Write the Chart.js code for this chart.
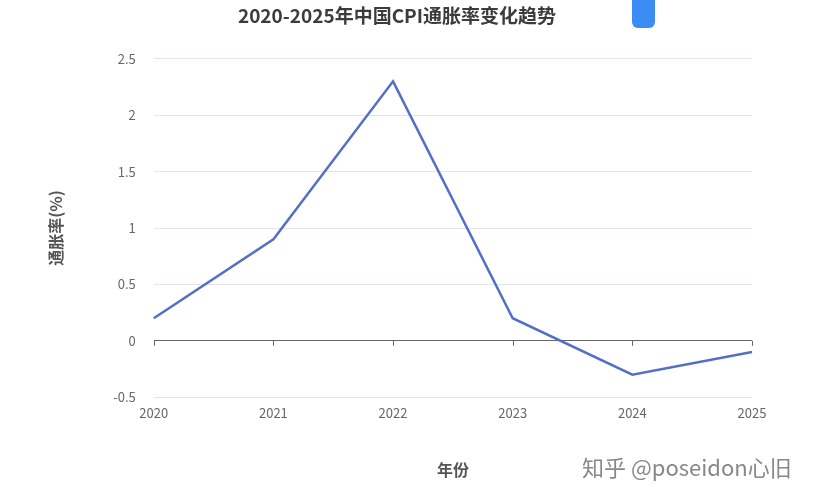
<!DOCTYPE html>
<html><head><meta charset="utf-8">
<script src="https://cdn.jsdelivr.net/npm/chart.js@4.4.0/dist/chart.umd.min.js"></script>
<style>
html,body{margin:0;padding:0;background:#fff;}
#wrap{position:relative;width:836px;height:500px;}
#tab{position:absolute;left:632px;top:-10px;width:23px;height:38px;background:#3b8cf5;border-radius:0 0 6px 6px;}
#wm{position:absolute;left:582px;top:450px;font:22px "Noto Sans CJK SC";color:#888;}
</style></head>
<body><div id="wrap"><canvas id="c" width="836" height="500"></canvas><div id="tab"></div><div id="wm">知乎 @poseidon心旧</div></div>
<script>
// 数据
const years = ["2020", "2021", "2022", "2023", "2024", "2025"];
const cpi = [0.2, 0.9, 2.3, 0.2, -0.3, -0.1];

const font = "'Noto Sans CJK SC', 'Noto Sans', sans-serif";

new Chart(document.getElementById("c"), {
  type: "line",
  data: {
    labels: years,
    datasets: [{
      data: cpi,
      borderColor: "#5470c6",
      borderWidth: 2.5,
      pointRadius: 0,
      tension: 0,
      fill: false
    }]
  },
  options: {
    responsive: false,
    animation: false,
    layout: { padding: { left: 42, right: 84, top: 0, bottom: 16 } },
    plugins: {
      legend: { display: false },
      tooltip: { enabled: false },
      title: {
        display: true,
        text: "2020-2025年中国CPI通胀率变化趋势",
        font: { family: font, size: 19, weight: "bold" },
        color: "#3c3c3c",
        padding: { top: 4, bottom: 32 }
      }
    },
    scales: {
      x: {
        grid: { display: false, drawTicks: false },
        border: { display: false },
        ticks: { color: "#666", font: { family: font, size: 13 }, padding: 8 },
        title: { display: true, text: "年份", color: "#555", font: { family: font, size: 16, weight: "bold" }, padding: { top: 32 } }
      },
      y: {
        min: -0.5, max: 2.5,
        ticks: { stepSize: 0.5, color: "#666", font: { family: font, size: 13 }, padding: 18,
                 callback: v => String(v) },
        grid: {
          color: ctx => ctx.tick && ctx.tick.value === 0 ? "#666" : "#e0e6f1",
          drawTicks: false
        },
        border: { display: false },
        title: { display: true, text: "通胀率(%)", color: "#555", font: { family: font, size: 16, weight: "bold" }, padding: { bottom: 30 } }
      }
    }
  },
  plugins: [{
    id: "zeroTicks",
    afterDraw(chart) {
      const { ctx, scales: { x, y } } = chart;
      const y0 = y.getPixelForValue(0);
      ctx.save();
      ctx.strokeStyle = "#666";
      ctx.lineWidth = 1;
      years.forEach((_, i) => {
        const px = Math.round(x.getPixelForValue(i)) + 0.5;
        ctx.beginPath(); ctx.moveTo(px, y0); ctx.lineTo(px, y0 + 5); ctx.stroke();
      });
      ctx.restore();
    }
  }]
});
</script></body></html>
